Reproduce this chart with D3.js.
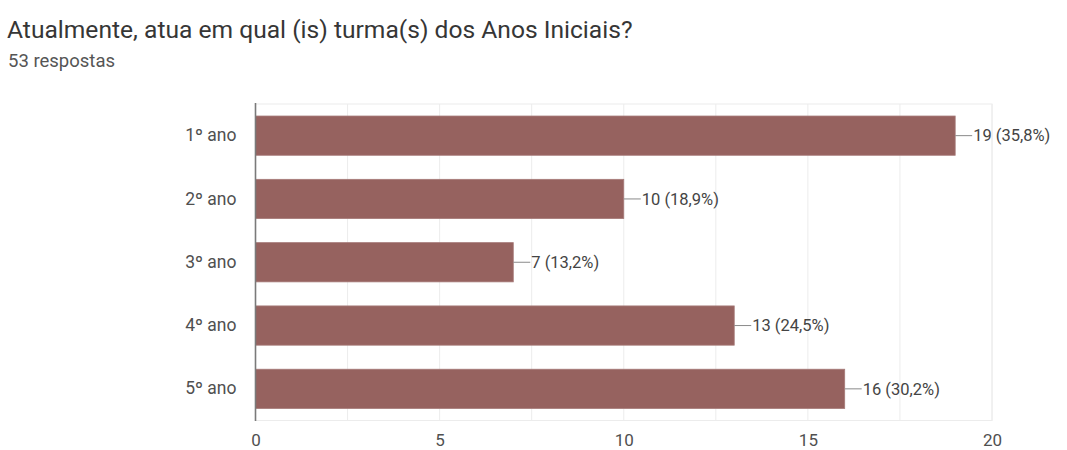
<!DOCTYPE html>
<html>
<head>
<meta charset="utf-8">
<script src="https://cdn.jsdelivr.net/npm/d3@7"></script>
<style>
  html, body { margin: 0; padding: 0; background: #fff; }
  svg { display: block; font-family: Roboto, Arial, sans-serif; }
</style>
</head>
<body>
<svg id="chart" width="1067" height="450"></svg>
<script>
const titleText = "Atualmente, atua em qual (is) turma(s) dos Anos Iniciais?";
const subtitleText = "53 respostas";
const categories = ["1º ano", "2º ano", "3º ano", "4º ano", "5º ano"];
const values = [19, 10, 7, 13, 16];
const percents = ["35,8%", "18,9%", "13,2%", "24,5%", "30,2%"];
const tickLabels = [0, 5, 10, 15, 20];
const gridValues = [0, 2.5, 5, 7.5, 10, 12.5, 15, 17.5, 20];

const svg = d3.select("#chart");
const pLeft = 255.5, pRight = 992, pTop = 104, pBottom = 420.5;

const x = d3.scaleLinear().domain([0, 20]).range([pLeft, pRight]);
const y = d3.scaleBand().domain(categories).range([pTop, pBottom]).paddingInner(0.38).paddingOuter(0.19);

// title
svg.append("text").attr("x", 7).attr("y", 38)
  .attr("font-size", 24.6).attr("fill", "#363636").text(titleText);
svg.append("text").attr("x", 8).attr("y", 66.5)
  .attr("font-size", 18.5).attr("fill", "#555").text(subtitleText);

// plot frame (light)
svg.append("rect").attr("x", pLeft).attr("y", pTop)
  .attr("width", pRight - pLeft).attr("height", pBottom - pTop)
  .attr("fill", "none").attr("stroke", "#ececec").attr("stroke-width", 1);

// grid lines
svg.append("g").selectAll("line").data(gridValues).join("line")
  .attr("x1", d => x(d)).attr("x2", d => x(d))
  .attr("y1", pTop).attr("y2", pBottom)
  .attr("stroke", "#ececec").attr("stroke-width", 1);

// bars
svg.append("g").selectAll("rect").data(categories).join("rect")
  .attr("x", x(0))
  .attr("y", d => y(d))
  .attr("width", (d, i) => x(values[i]) - x(0))
  .attr("height", y.bandwidth())
  .attr("fill", "#96625f")
  .attr("stroke", "#a67a78").attr("stroke-width", 0.8);

// zero axis line
svg.append("line").attr("x1", x(0)).attr("x2", x(0))
  .attr("y1", pTop - 1).attr("y2", pBottom + 0.5)
  .attr("stroke", "#7a7a7a").attr("stroke-width", 1.6);

// category labels
const yAxis = d3.axisLeft(y).tickSize(0).tickPadding(19);
const gy = svg.append("g").attr("transform", `translate(${pLeft},0)`).call(yAxis);
gy.select(".domain").remove();
gy.selectAll("text").attr("font-size", 17.5).attr("fill", "#505050")
  .attr("font-family", "Roboto, Arial, sans-serif");

// x tick labels
const xAxis = d3.axisBottom(x).tickValues(tickLabels).tickSize(0).tickPadding(13);
const gx = svg.append("g").attr("transform", `translate(0,${pBottom})`).call(xAxis);
gx.select(".domain").remove();
gx.selectAll("text").attr("font-size", 17).attr("fill", "#505050")
  .attr("font-family", "Roboto, Arial, sans-serif");

// value leader lines and labels
const lbl = svg.append("g");
lbl.selectAll("line").data(categories).join("line")
  .attr("x1", (d, i) => x(values[i]))
  .attr("x2", (d, i) => x(values[i]) + 17)
  .attr("y1", d => y(d) + y.bandwidth() / 2)
  .attr("y2", d => y(d) + y.bandwidth() / 2)
  .attr("stroke", "#8a8a8a").attr("stroke-width", 1);
lbl.selectAll("text").data(categories).join("text")
  .attr("x", (d, i) => x(values[i]) + 18)
  .attr("y", d => y(d) + y.bandwidth() / 2)
  .attr("dy", "0.35em")
  .attr("font-size", 16.5).attr("fill", "#444")
  .text((d, i) => `${values[i]} (${percents[i]})`);
</script>
</body>
</html>
